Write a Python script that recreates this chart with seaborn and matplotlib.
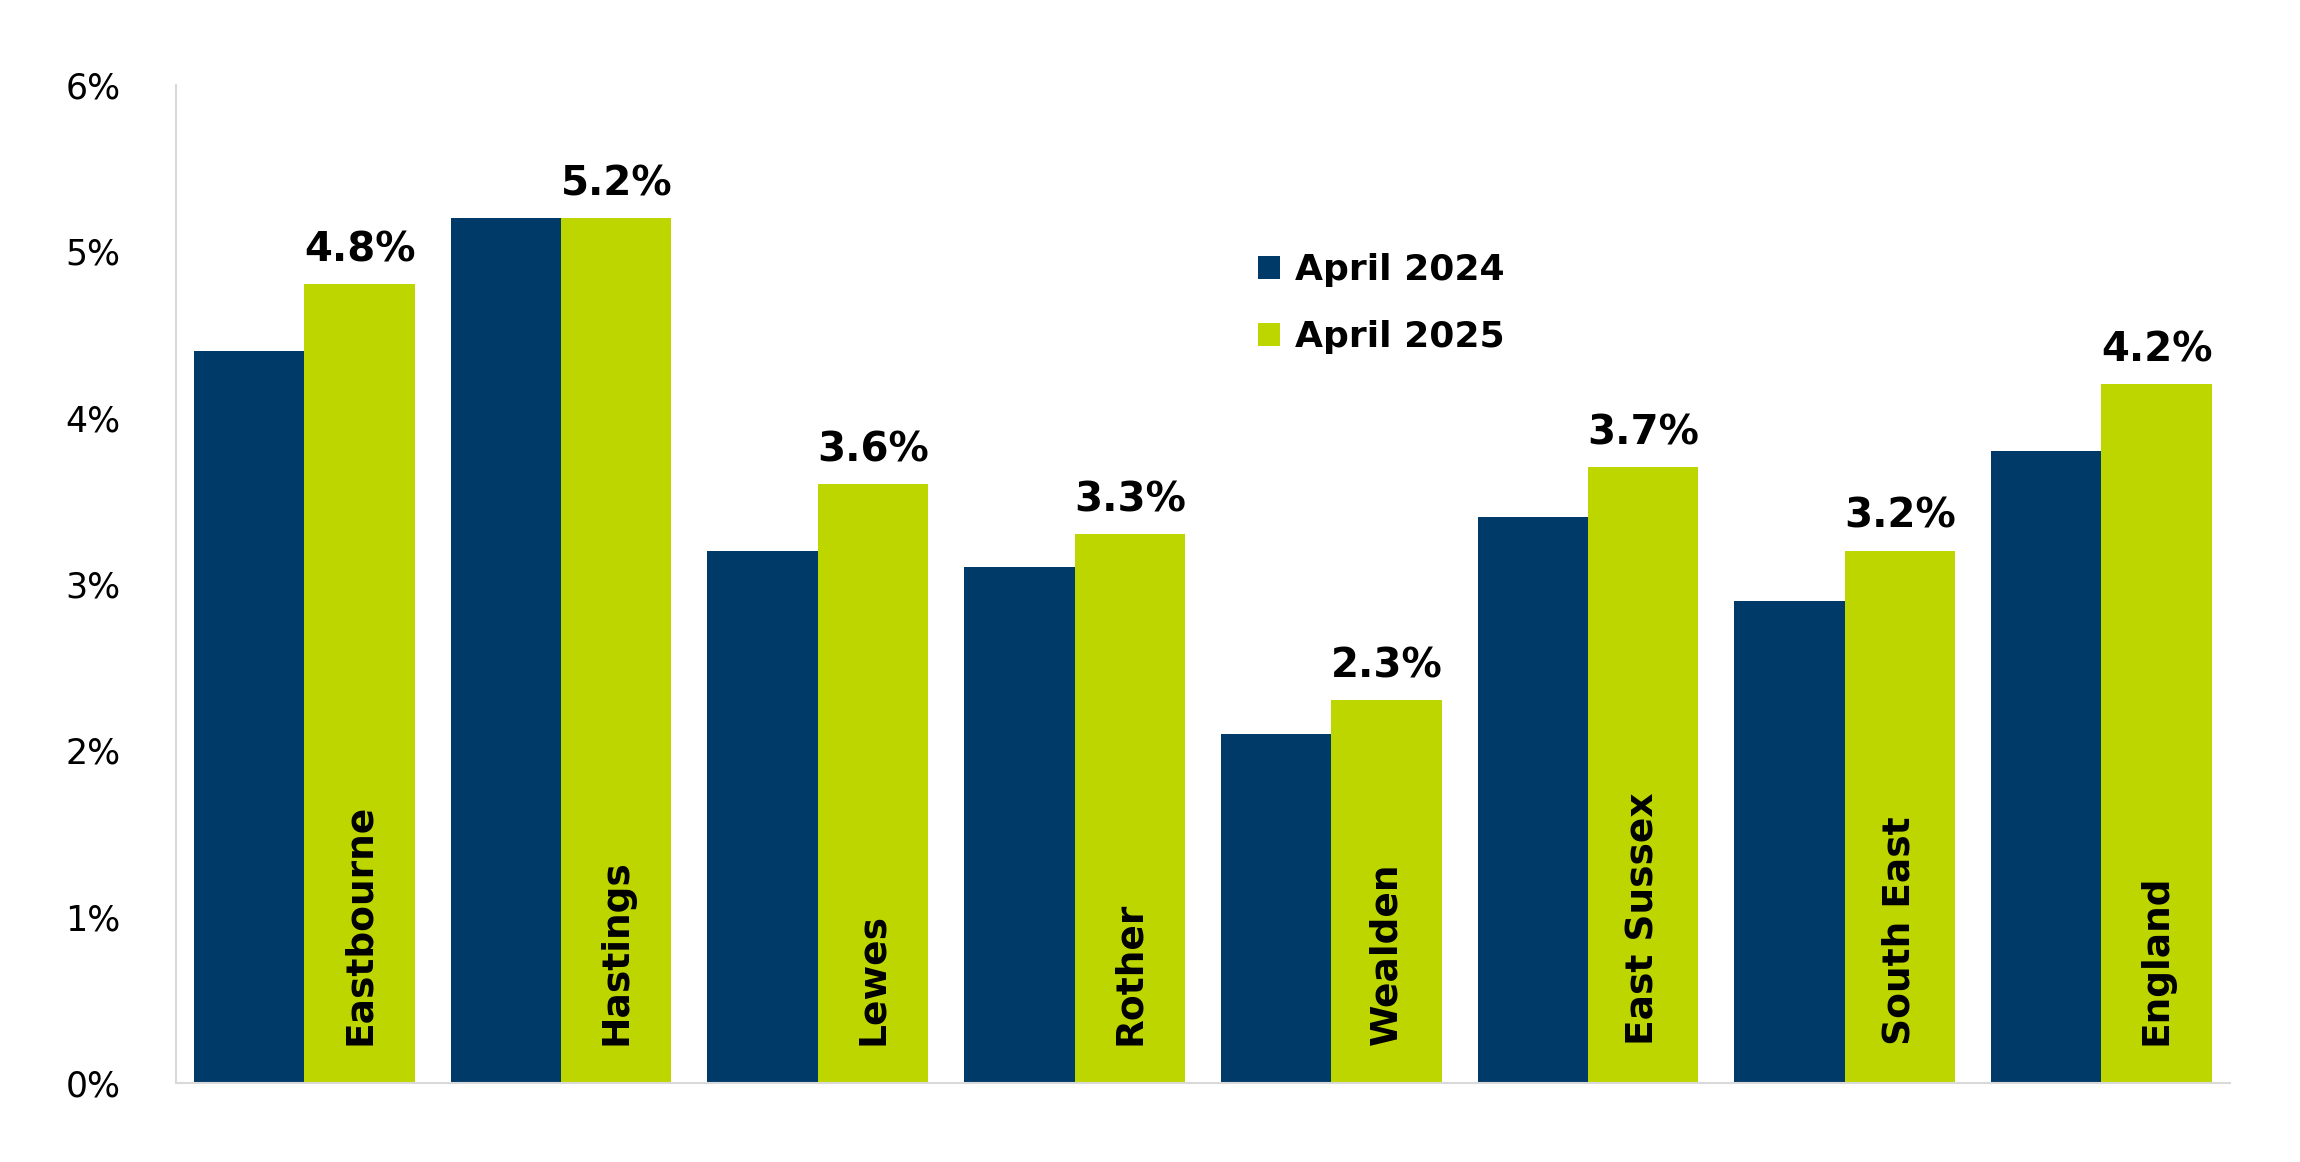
import matplotlib
matplotlib.use("Agg")
import matplotlib.pyplot as plt
import seaborn as sns
import pandas as pd
from matplotlib.ticker import FuncFormatter

categories = ["Eastbourne", "Hastings", "Lewes", "Rother", "Wealden", "East Sussex", "South East", "England"]
series_names = ["April 2024", "April 2025"]
values_2024 = [4.4, 5.2, 3.2, 3.1, 2.1, 3.4, 2.9, 3.8]
values_2025 = [4.8, 5.2, 3.6, 3.3, 2.3, 3.7, 3.2, 4.2]
yticks = [0, 1, 2, 3, 4, 5, 6]

df = pd.DataFrame({
    "cat": categories * 2,
    "series": [series_names[0]] * len(categories) + [series_names[1]] * len(categories),
    "val": values_2024 + values_2025,
})

font = "DejaVu Sans"
fig = plt.figure(figsize=(23, 11.62), dpi=100)
ax = fig.add_axes([0.0765, 0.068, 0.893, 0.859])
sns.barplot(data=df, x="cat", y="val", hue="series", palette=["#003A68", "#BDD600"],
            width=0.86, saturation=1, ax=ax, legend=True)

ax.set_ylim(0, 6)
ax.set_xlim(-0.5, len(categories) - 0.5)
ax.set_yticks(yticks)
ax.yaxis.set_major_formatter(FuncFormatter(lambda v, p: f"{v:.0f}%"))
ax.tick_params(axis="y", labelsize=25, length=0, pad=40)
ax.tick_params(axis="x", length=0, labelbottom=False)
for lbl in ax.get_yticklabels():
    lbl.set_fontfamily(font)
ax.set_xlabel("")
ax.set_ylabel("")
for s in ["top", "right"]:
    ax.spines[s].set_visible(False)
ax.spines["left"].set_color("#D9D9D9")
ax.spines["bottom"].set_color("#D9D9D9")
ax.spines["left"].set_linewidth(1.5)
ax.spines["bottom"].set_linewidth(1.5)

green = ax.containers[1]
ax.bar_label(green, labels=[f"{v:.1f}%" for v in values_2025], padding=10,
             fontsize=29, fontweight="bold", fontfamily=font)

for rect, name in zip(green, categories):
    ax.text(rect.get_x() + rect.get_width() / 2, 0.23, name, rotation=90,
            ha="center", va="bottom", fontsize=27, fontweight="bold", fontfamily=font)

ax.get_legend().remove()
handles, labels = ax.get_legend_handles_labels()
fig.legend(handles[:2], labels[:2], loc="upper left", bbox_to_anchor=(0.533, 0.81),
           frameon=False, prop={"size": 26, "weight": "bold", "family": font},
           handlelength=0.6, handleheight=0.6, handletextpad=0.4, labelspacing=0.9)

fig.savefig("out.png", dpi=100)
